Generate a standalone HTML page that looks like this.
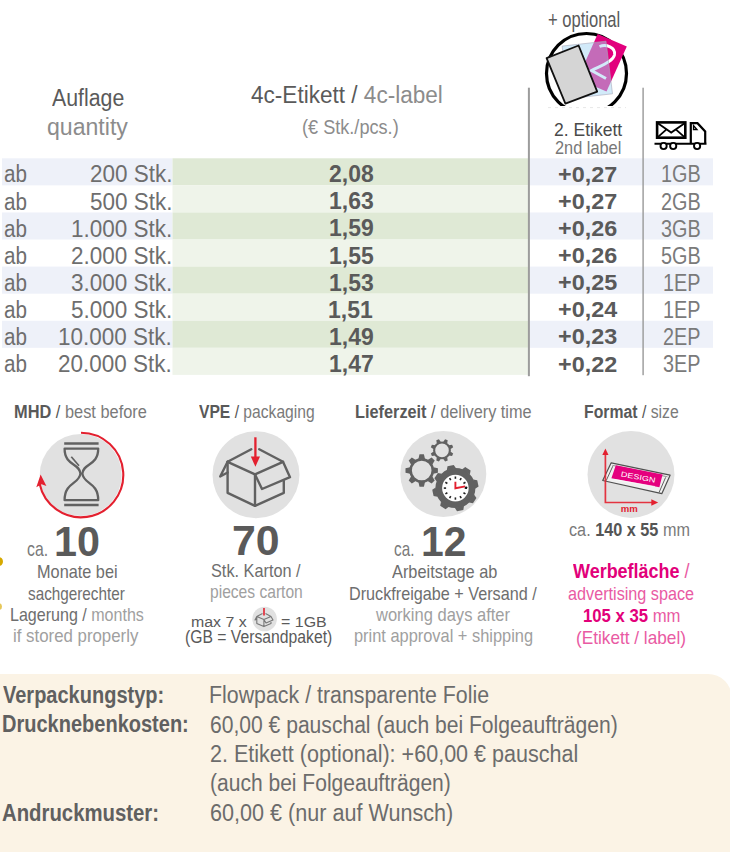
<!DOCTYPE html>
<html><head><meta charset="utf-8"><style>
html,body{margin:0;padding:0;background:#fff;width:730px;height:852px;overflow:hidden}
body{position:relative;font-family:'Liberation Sans', sans-serif}
.t{position:absolute;white-space:pre;line-height:1;transform-origin:0 0.85em}
.b{position:absolute}
</style></head><body>
<div class="b" style="left:-30px;top:674.3px;width:762px;height:220px;border-radius:24px;background:#fbf3e5"></div><svg class="b" style="left:0;top:0" width="730" height="852" viewBox="0 0 730 852"><rect x="2" y="158.30" width="170.5" height="27.07" fill="#eef1f9"/><rect x="172.5" y="158.30" width="356" height="27.07" fill="#dfe9d5"/><rect x="528.5" y="158.30" width="184.5" height="27.07" fill="#eef1f9"/><rect x="172.5" y="185.38" width="356" height="27.07" fill="#eff4ea"/><rect x="2" y="212.45" width="170.5" height="27.07" fill="#eef1f9"/><rect x="172.5" y="212.45" width="356" height="27.07" fill="#dfe9d5"/><rect x="528.5" y="212.45" width="184.5" height="27.07" fill="#eef1f9"/><rect x="172.5" y="239.53" width="356" height="27.07" fill="#eff4ea"/><rect x="2" y="266.60" width="170.5" height="27.07" fill="#eef1f9"/><rect x="172.5" y="266.60" width="356" height="27.07" fill="#dfe9d5"/><rect x="528.5" y="266.60" width="184.5" height="27.07" fill="#eef1f9"/><rect x="172.5" y="293.68" width="356" height="27.07" fill="#eff4ea"/><rect x="2" y="320.75" width="170.5" height="27.07" fill="#eef1f9"/><rect x="172.5" y="320.75" width="356" height="27.07" fill="#dfe9d5"/><rect x="528.5" y="320.75" width="184.5" height="27.07" fill="#eef1f9"/><rect x="172.5" y="347.83" width="356" height="27.07" fill="#eff4ea"/><rect x="527.9" y="87.7" width="2" height="288.5" fill="#9c9c9c"/><rect x="642.4" y="87.7" width="1.4" height="287.5" fill="#999"/><defs><clipPath id="cc"><rect x="530" y="20" width="110" height="86"/></clipPath></defs><g clip-path="url(#cc)"><circle cx="586.5" cy="73.5" r="40" fill="none" stroke="#000" stroke-width="3.2"/></g><polygon points="597.7,34 626.8,46.6 606.5,91.6 577.5,79" fill="#e2007d"/><path d="M599.5,46.5 C606,44 616,47 614.5,55 C613,62 600,66 591.5,70.5 L606,78.5" fill="none" stroke="#fff" stroke-width="2.9"/><polygon points="562.1,46.1 606,41.2 612.5,93.8 568.7,98.7" fill="#a6d6f3" fill-opacity="0.5" stroke="#aab" stroke-width="0.6"/><polygon points="546.6,58.2 578.6,45.5 597.2,91.6 565.4,103.6" fill="#d5d5d5" stroke="#111" stroke-width="1.8" stroke-linejoin="round"/><line x1="548" y1="107.6" x2="626" y2="107.6" stroke="#ddd" stroke-width="0.7" stroke-dasharray="3 4"/><g fill="none" stroke="#000" stroke-width="2.2"><rect x="657.1" y="122.4" width="28.2" height="15.3" stroke-width="2.6"/><path d="M657.5,123 L671.2,132.6 L685,123 M657.8,137.2 L666.8,129.2 M684.5,137.2 L675.5,129.2" stroke-width="1.8"/><path d="M690.8,143 L690.8,123.2 L697.5,123.2 L705.2,131.5 L705.2,143"/><path d="M693.5,129.5 L693.5,125.5 L697,129.5 Z" stroke-width="1.3"/><line x1="654.5" y1="143.8" x2="706.5" y2="143.8" stroke-width="2"/></g><circle cx="663.6" cy="146" r="3.1" fill="#fff" stroke="#000" stroke-width="1.9"/><circle cx="673.2" cy="146" r="3.1" fill="#fff" stroke="#000" stroke-width="1.9"/><circle cx="697.1" cy="146" r="3.1" fill="#fff" stroke="#000" stroke-width="1.9"/><circle cx="80.7" cy="475" r="41" fill="#e1e1e1"/><path d="M81,432.7 A42.3,42.3 0 1 1 39.62,483.79" fill="none" stroke="#e3202f" stroke-width="2.1"/><polygon points="40.6,474.5 36.3,487.3 41.6,484.2 46.4,486" fill="#e3202f"/><g fill="none" stroke="#616161" stroke-width="2.5" stroke-linecap="butt"><line x1="64.2" y1="443.6" x2="98.6" y2="443.6"/><line x1="64.2" y1="505.1" x2="98.6" y2="505.1"/><path d="M64.6,448.6 L98.2,448.6 C98.4,466 83,463 82.4,473.5 C83,484 98.4,482 98.2,500.2 L64.6,500.2 C64.4,482 79.8,484 80.4,473.5 C79.8,463 64.4,466 64.6,448.6 Z" stroke-linejoin="round" stroke-width="2.3"/><line x1="71.3" y1="456.8" x2="79" y2="465.8" stroke-width="1.7"/></g><circle cx="256" cy="474.7" r="43.5" fill="#e1e1e1"/><g fill="none" stroke="#616161" stroke-width="2.4" stroke-linejoin="round" stroke-linecap="round"><path d="M251.3,449.2 L227.6,461.8 L255,474.4 L283,461.8 L259.2,449.2"/><path d="M227.6,461.8 L227.6,492.8 L255,505.8 L283.8,492.8 L283.8,481"/><path d="M255,474.4 L255,505.8"/><path d="M283,461.8 L290,477.2 L262,489 L255,474.4"/><path d="M227.6,461.8 L220.2,476.5 L227.6,472.5"/></g><line x1="255.4" y1="437.3" x2="255.4" y2="458.5" stroke="#e3202f" stroke-width="2.3"/><polygon points="250.8,456.4 260,456.4 255.4,466.8" fill="#e3202f"/><circle cx="443.3" cy="474" r="43" fill="#e1e1e1"/><circle cx="442.0" cy="450.4" r="7.85" fill="none" stroke="#616161" stroke-width="2.10"/><polygon points="447.13,443.76 447.69,440.31 445.11,439.24 443.07,442.07" fill="#616161"/><polygon points="450.33,449.33 453.16,447.29 452.09,444.71 448.64,445.27" fill="#616161"/><polygon points="448.64,455.53 452.09,456.09 453.16,453.51 450.33,451.47" fill="#616161"/><polygon points="443.07,458.73 445.11,461.56 447.69,460.49 447.13,457.04" fill="#616161"/><polygon points="436.87,457.04 436.31,460.49 438.89,461.56 440.93,458.73" fill="#616161"/><polygon points="433.67,451.47 430.84,453.51 431.91,456.09 435.36,455.53" fill="#616161"/><polygon points="435.36,445.27 431.91,444.71 430.84,447.29 433.67,449.33" fill="#616161"/><polygon points="440.93,442.07 438.89,439.24 436.31,440.31 436.87,443.76" fill="#616161"/><circle cx="421.7" cy="470.5" r="11.10" fill="none" stroke="#616161" stroke-width="2.60"/><polygon points="425.00,458.90 423.90,454.30 419.50,454.30 418.40,458.90" fill="#616161"/><polygon points="432.24,464.63 434.71,460.60 431.60,457.49 427.57,459.96" fill="#616161"/><polygon points="433.30,473.80 437.90,472.70 437.90,468.30 433.30,467.20" fill="#616161"/><polygon points="427.57,481.04 431.60,483.51 434.71,480.40 432.24,476.37" fill="#616161"/><polygon points="418.40,482.10 419.50,486.70 423.90,486.70 425.00,482.10" fill="#616161"/><polygon points="411.16,476.37 408.69,480.40 411.80,483.51 415.83,481.04" fill="#616161"/><polygon points="410.10,467.20 405.50,468.30 405.50,472.70 410.10,473.80" fill="#616161"/><polygon points="415.83,459.96 411.80,457.49 408.69,460.60 411.16,464.63" fill="#616161"/><circle cx="455.4" cy="488.1" r="13.5" fill="#fff"/><circle cx="455.4" cy="488.1" r="16.65" fill="none" stroke="#616161" stroke-width="6.70"/><polygon points="456.01,468.34 453.75,464.94 447.49,466.27 446.81,470.30" fill="#616161"/><polygon points="469.80,474.56 470.61,470.55 465.24,467.07 461.92,469.44" fill="#616161"/><polygon points="475.16,488.71 478.56,486.45 477.23,480.19 473.20,479.51" fill="#616161"/><polygon points="468.94,502.50 472.95,503.31 476.43,497.94 474.06,494.62" fill="#616161"/><polygon points="454.79,507.86 457.05,511.26 463.31,509.93 463.99,505.90" fill="#616161"/><polygon points="441.00,501.64 440.19,505.65 445.56,509.13 448.88,506.76" fill="#616161"/><polygon points="435.64,487.49 432.24,489.75 433.57,496.01 437.60,496.69" fill="#616161"/><polygon points="441.86,473.70 437.85,472.89 434.37,478.26 436.74,481.58" fill="#616161"/><line x1="464.70" y1="488.10" x2="467.00" y2="488.10" stroke="#222" stroke-width="1.6"/><line x1="463.45" y1="492.75" x2="465.45" y2="493.90" stroke="#222" stroke-width="1.6"/><line x1="460.05" y1="496.15" x2="461.20" y2="498.15" stroke="#222" stroke-width="1.6"/><line x1="455.40" y1="497.40" x2="455.40" y2="499.70" stroke="#222" stroke-width="1.6"/><line x1="450.75" y1="496.15" x2="449.60" y2="498.15" stroke="#222" stroke-width="1.6"/><line x1="447.35" y1="492.75" x2="445.35" y2="493.90" stroke="#222" stroke-width="1.6"/><line x1="446.10" y1="488.10" x2="443.80" y2="488.10" stroke="#222" stroke-width="1.6"/><line x1="447.35" y1="483.45" x2="445.35" y2="482.30" stroke="#222" stroke-width="1.6"/><line x1="450.75" y1="480.05" x2="449.60" y2="478.05" stroke="#222" stroke-width="1.6"/><line x1="455.40" y1="478.80" x2="455.40" y2="476.50" stroke="#222" stroke-width="1.6"/><line x1="460.05" y1="480.05" x2="461.20" y2="478.05" stroke="#222" stroke-width="1.6"/><line x1="463.45" y1="483.45" x2="465.45" y2="482.30" stroke="#222" stroke-width="1.6"/><path d="M455.4,481.8 L455.4,488.3 L465.2,486.4" fill="none" stroke="#e3202f" stroke-width="1.9"/><circle cx="466.2" cy="487.6" r="1.2" fill="#111"/><circle cx="631" cy="474.4" r="43.5" fill="#e1e1e1"/><polygon points="602.7,480.5 611.2,462.8 670.1,475.2 661.8,493.7" fill="#f0f0f0" stroke="#505050" stroke-width="1.2" stroke-linejoin="round"/><line x1="612.3" y1="465.3" x2="667.5" y2="476.8" stroke="#707070" stroke-width="0.7"/><line x1="612.8" y1="466.2" x2="606.2" y2="480.6" stroke="#505050" stroke-width="0.9"/><line x1="665.6" y1="477.4" x2="659" y2="492.6" stroke="#505050" stroke-width="0.9"/><polygon points="615.8,465.2 662.6,474.6 659.4,487.2 611.4,478.2" fill="#e5007e"/><text x="620.5" y="476.2" font-family="Liberation Sans" font-size="7.2" fill="#fff" transform="rotate(11 620.5 476.2)" textLength="35" lengthAdjust="spacingAndGlyphs">DESIGN</text><line x1="614.5" y1="479.5" x2="655" y2="486.5" stroke="#fff" stroke-width="0.8" opacity="0.8"/><path d="M605.4,454 L605.4,502.5 L652,502.5" fill="none" stroke="#e3202f" stroke-width="1.7" stroke-opacity="0.9"/><polygon points="602.3,455 608.5,455 605.4,448.6" fill="#e3202f"/><polygon points="651.3,499.2 651.3,505.8 658.2,502.5" fill="#e3202f"/><text x="620.8" y="511.8" font-family="Liberation Sans" font-weight="bold" font-size="8.5" fill="#e3202f" textLength="17" lengthAdjust="spacingAndGlyphs">mm</text><circle cx="264.6" cy="619" r="12.3" fill="#e1e1e1"/><g fill="none" stroke="#777" stroke-width="1.1" stroke-linejoin="round"><path d="M262.5,613.5 L256.8,616.4 L263.9,619.5 L271,616.4 L265.5,613.5 M256.8,616.4 L256.8,623.5 L263.9,626.6 L271,623.5 L271,620.5 M263.9,619.5 L263.9,626.6 M271,616.4 L273,620 L266,623 L263.9,619.5 M256.8,616.4 L255,620 L256.8,619"/></g><line x1="264" y1="608" x2="264" y2="615.5" stroke="#e3202f" stroke-width="1.6"/></svg><div class="b" style="left:-5px;top:556.5px;width:8px;height:9px;background:#d6a900;border-radius:50%"></div><div class="b" style="left:-5px;top:602.5px;width:6.6px;height:7px;background:#e6c75a;border-radius:50%"></div>
<div class="t" style="left:547.84px;top:9.00px;font-size:21.74px;transform:scale(0.7613,1.0)"><span style="color:#5a5a5a;font-weight:normal">+ optional</span></div><div class="t" style="left:51.60px;top:87.00px;font-size:23.62px;transform:scale(0.9025,1.0)"><span style="color:#5a5a5a;font-weight:normal">Auflage</span></div><div class="t" style="left:46.52px;top:116.00px;font-size:23.62px;transform:scale(0.9780,1.0)"><span style="color:#8c8c8c;font-weight:normal">quantity</span></div><div class="t" style="left:250.80px;top:83.00px;font-size:24.64px;transform:scale(0.9163,1.0)"><span style="color:#5a5a5a;font-weight:normal">4c-Etikett / </span><span style="color:#8c8c8c;font-weight:normal">4c-label</span></div><div class="t" style="left:302.39px;top:118.00px;font-size:19.86px;transform:scale(0.9125,1.0)"><span style="color:#8c8c8c;font-weight:normal">(€ Stk./pcs.)</span></div><div class="t" style="left:553.95px;top:121.00px;font-size:18.55px;transform:scale(0.9451,1.0)"><span style="color:#4a4a4a;font-weight:normal">2. Etikett</span></div><div class="t" style="left:555.18px;top:140.00px;font-size:17.83px;transform:scale(0.9157,1.0)"><span style="color:#777777;font-weight:normal">2nd label</span></div><div class="t" style="left:3.66px;top:162.00px;font-size:24.64px;transform:scale(0.8385,1.0)"><span style="color:#6e6e6e;font-weight:normal">ab</span></div><div class="t" style="left:89.69px;top:162.00px;font-size:24.64px;transform:scale(0.9126,1.0)"><span style="color:#6e6e6e;font-weight:normal">200 Stk.</span></div><div class="t" style="left:328.93px;top:163.00px;font-size:23.62px;transform:scale(0.9727,1.0)"><span style="color:#5a5a5a;font-weight:bold">2,08</span></div><div class="t" style="left:558.42px;top:164.00px;font-size:21.74px;transform:scale(1.0755,1.0)"><span style="color:#5a5a5a;font-weight:bold">+0,27</span></div><div class="t" style="left:660.84px;top:162.00px;font-size:23.91px;transform:scale(0.8289,1.0)"><span style="color:#7a7a7a;font-weight:normal">1GB</span></div><div class="t" style="left:3.66px;top:190.00px;font-size:24.64px;transform:scale(0.8385,1.0)"><span style="color:#6e6e6e;font-weight:normal">ab</span></div><div class="t" style="left:89.69px;top:190.00px;font-size:24.64px;transform:scale(0.9126,1.0)"><span style="color:#6e6e6e;font-weight:normal">500 Stk.</span></div><div class="t" style="left:328.93px;top:190.00px;font-size:23.62px;transform:scale(0.9727,1.0)"><span style="color:#5a5a5a;font-weight:bold">1,63</span></div><div class="t" style="left:558.42px;top:191.00px;font-size:21.74px;transform:scale(1.0755,1.0)"><span style="color:#5a5a5a;font-weight:bold">+0,27</span></div><div class="t" style="left:660.84px;top:190.00px;font-size:23.91px;transform:scale(0.8289,1.0)"><span style="color:#7a7a7a;font-weight:normal">2GB</span></div><div class="t" style="left:3.66px;top:217.00px;font-size:24.64px;transform:scale(0.8385,1.0)"><span style="color:#6e6e6e;font-weight:normal">ab</span></div><div class="t" style="left:70.52px;top:217.00px;font-size:24.64px;transform:scale(0.9126,1.0)"><span style="color:#6e6e6e;font-weight:normal">1.000 Stk.</span></div><div class="t" style="left:328.93px;top:217.00px;font-size:23.62px;transform:scale(0.9727,1.0)"><span style="color:#5a5a5a;font-weight:bold">1,59</span></div><div class="t" style="left:557.89px;top:218.00px;font-size:21.74px;transform:scale(1.0755,1.0)"><span style="color:#5a5a5a;font-weight:bold">+0,26</span></div><div class="t" style="left:660.84px;top:217.00px;font-size:23.91px;transform:scale(0.8289,1.0)"><span style="color:#7a7a7a;font-weight:normal">3GB</span></div><div class="t" style="left:3.66px;top:244.00px;font-size:24.64px;transform:scale(0.8385,1.0)"><span style="color:#6e6e6e;font-weight:normal">ab</span></div><div class="t" style="left:70.52px;top:244.00px;font-size:24.64px;transform:scale(0.9126,1.0)"><span style="color:#6e6e6e;font-weight:normal">2.000 Stk.</span></div><div class="t" style="left:328.93px;top:245.00px;font-size:23.62px;transform:scale(0.9727,1.0)"><span style="color:#5a5a5a;font-weight:bold">1,55</span></div><div class="t" style="left:557.89px;top:245.00px;font-size:21.74px;transform:scale(1.0755,1.0)"><span style="color:#5a5a5a;font-weight:bold">+0,26</span></div><div class="t" style="left:660.84px;top:244.00px;font-size:23.91px;transform:scale(0.8289,1.0)"><span style="color:#7a7a7a;font-weight:normal">5GB</span></div><div class="t" style="left:3.66px;top:271.00px;font-size:24.64px;transform:scale(0.8385,1.0)"><span style="color:#6e6e6e;font-weight:normal">ab</span></div><div class="t" style="left:70.52px;top:271.00px;font-size:24.64px;transform:scale(0.9126,1.0)"><span style="color:#6e6e6e;font-weight:normal">3.000 Stk.</span></div><div class="t" style="left:328.93px;top:272.00px;font-size:23.62px;transform:scale(0.9727,1.0)"><span style="color:#5a5a5a;font-weight:bold">1,53</span></div><div class="t" style="left:557.89px;top:272.00px;font-size:21.74px;transform:scale(1.0755,1.0)"><span style="color:#5a5a5a;font-weight:bold">+0,25</span></div><div class="t" style="left:663.33px;top:271.00px;font-size:23.91px;transform:scale(0.8289,1.0)"><span style="color:#7a7a7a;font-weight:normal">1EP</span></div><div class="t" style="left:3.66px;top:298.00px;font-size:24.64px;transform:scale(0.8385,1.0)"><span style="color:#6e6e6e;font-weight:normal">ab</span></div><div class="t" style="left:70.52px;top:298.00px;font-size:24.64px;transform:scale(0.9126,1.0)"><span style="color:#6e6e6e;font-weight:normal">5.000 Stk.</span></div><div class="t" style="left:328.44px;top:299.00px;font-size:23.62px;transform:scale(0.9727,1.0)"><span style="color:#5a5a5a;font-weight:bold">1,51</span></div><div class="t" style="left:557.89px;top:299.00px;font-size:21.74px;transform:scale(1.0755,1.0)"><span style="color:#5a5a5a;font-weight:bold">+0,24</span></div><div class="t" style="left:663.33px;top:298.00px;font-size:23.91px;transform:scale(0.8289,1.0)"><span style="color:#7a7a7a;font-weight:normal">1EP</span></div><div class="t" style="left:3.66px;top:325.00px;font-size:24.64px;transform:scale(0.8385,1.0)"><span style="color:#6e6e6e;font-weight:normal">ab</span></div><div class="t" style="left:57.74px;top:325.00px;font-size:24.64px;transform:scale(0.9126,1.0)"><span style="color:#6e6e6e;font-weight:normal">10.000 Stk.</span></div><div class="t" style="left:328.93px;top:326.00px;font-size:23.62px;transform:scale(0.9727,1.0)"><span style="color:#5a5a5a;font-weight:bold">1,49</span></div><div class="t" style="left:557.89px;top:326.00px;font-size:21.74px;transform:scale(1.0755,1.0)"><span style="color:#5a5a5a;font-weight:bold">+0,23</span></div><div class="t" style="left:663.33px;top:325.00px;font-size:23.91px;transform:scale(0.8289,1.0)"><span style="color:#7a7a7a;font-weight:normal">2EP</span></div><div class="t" style="left:3.66px;top:352.00px;font-size:24.64px;transform:scale(0.8385,1.0)"><span style="color:#6e6e6e;font-weight:normal">ab</span></div><div class="t" style="left:57.74px;top:352.00px;font-size:24.64px;transform:scale(0.9126,1.0)"><span style="color:#6e6e6e;font-weight:normal">20.000 Stk.</span></div><div class="t" style="left:328.93px;top:353.00px;font-size:23.62px;transform:scale(0.9727,1.0)"><span style="color:#5a5a5a;font-weight:bold">1,47</span></div><div class="t" style="left:558.42px;top:354.00px;font-size:21.74px;transform:scale(1.0755,1.0)"><span style="color:#5a5a5a;font-weight:bold">+0,22</span></div><div class="t" style="left:663.33px;top:352.00px;font-size:23.91px;transform:scale(0.8289,1.0)"><span style="color:#7a7a7a;font-weight:normal">3EP</span></div><div class="t" style="left:13.92px;top:403.00px;font-size:18.70px;transform:scale(0.8760,1.0)"><span style="color:#595959;font-weight:bold">MHD</span><span style="color:#555555;font-weight:normal"> / </span><span style="color:#7a7a7a;font-weight:normal">best before</span></div><div class="t" style="left:198.80px;top:403.00px;font-size:18.70px;transform:scale(0.8372,1.0)"><span style="color:#595959;font-weight:bold">VPE</span><span style="color:#555555;font-weight:normal"> / </span><span style="color:#7a7a7a;font-weight:normal">packaging</span></div><div class="t" style="left:355.13px;top:403.00px;font-size:18.70px;transform:scale(0.8721,1.0)"><span style="color:#595959;font-weight:bold">Lieferzeit</span><span style="color:#555555;font-weight:normal"> / </span><span style="color:#7a7a7a;font-weight:normal">delivery time</span></div><div class="t" style="left:583.96px;top:403.00px;font-size:18.70px;transform:scale(0.8445,1.0)"><span style="color:#595959;font-weight:bold">Format</span><span style="color:#555555;font-weight:normal"> / </span><span style="color:#7a7a7a;font-weight:normal">size</span></div><div class="t" style="left:27.22px;top:539.00px;font-size:20.29px;transform:scale(0.7792,1.0)"><span style="color:#7a7a7a;font-weight:normal">ca.</span></div><div class="t" style="left:53.59px;top:520.00px;font-size:42.61px;transform:scale(0.9698,1.0)"><span style="color:#5a5a5a;font-weight:bold">10</span></div><div class="t" style="left:37.02px;top:563.00px;font-size:18.55px;transform:scale(0.8789,1.0)"><span style="color:#6e6e6e;font-weight:normal">Monate bei</span></div><div class="t" style="left:27.78px;top:585.00px;font-size:18.55px;transform:scale(0.8241,1.0)"><span style="color:#6e6e6e;font-weight:normal">sachgerechter</span></div><div class="t" style="left:10.33px;top:606.00px;font-size:18.55px;transform:scale(0.8660,1.0)"><span style="color:#6e6e6e;font-weight:normal">Lagerung / </span><span style="color:#a0a0a0;font-weight:normal">months</span></div><div class="t" style="left:13.29px;top:627.00px;font-size:18.55px;transform:scale(0.9080,1.0)"><span style="color:#a0a0a0;font-weight:normal">if stored properly</span></div><div class="t" style="left:231.74px;top:520.00px;font-size:41.59px;transform:scale(1.0302,1.0)"><span style="color:#5a5a5a;font-weight:bold">70</span></div><div class="t" style="left:210.92px;top:562.00px;font-size:18.55px;transform:scale(0.8782,1.0)"><span style="color:#6e6e6e;font-weight:normal">Stk. Karton /</span></div><div class="t" style="left:209.86px;top:583.00px;font-size:18.55px;transform:scale(0.8417,1.0)"><span style="color:#a0a0a0;font-weight:normal">pieces carton</span></div><div class="t" style="left:191.15px;top:614.00px;font-size:15.22px;transform:scale(1.0462,1.0)"><span style="color:#5a5a5a;font-weight:normal">max 7 x</span></div><div class="t" style="left:280.55px;top:614.00px;font-size:15.22px;transform:scale(1.0500,1.0)"><span style="color:#5a5a5a;font-weight:normal">= 1GB</span></div><div class="t" style="left:185.11px;top:629.00px;font-size:17.68px;transform:scale(0.8896,1.0)"><span style="color:#5a5a5a;font-weight:normal">(GB = Versandpaket)</span></div><div class="t" style="left:394.15px;top:539.00px;font-size:20.29px;transform:scale(0.7542,1.0)"><span style="color:#7a7a7a;font-weight:normal">ca.</span></div><div class="t" style="left:420.96px;top:521.00px;font-size:42.17px;transform:scale(0.9705,1.0)"><span style="color:#5a5a5a;font-weight:bold">12</span></div><div class="t" style="left:391.80px;top:563.00px;font-size:18.55px;transform:scale(0.8824,1.0)"><span style="color:#6e6e6e;font-weight:normal">Arbeitstage ab</span></div><div class="t" style="left:349.13px;top:585.00px;font-size:18.55px;transform:scale(0.8738,1.0)"><span style="color:#6e6e6e;font-weight:normal">Druckfreigabe + Versand /</span></div><div class="t" style="left:376.00px;top:606.00px;font-size:18.55px;transform:scale(0.8913,1.0)"><span style="color:#a0a0a0;font-weight:normal">working days after</span></div><div class="t" style="left:353.52px;top:627.00px;font-size:18.55px;transform:scale(0.8845,1.0)"><span style="color:#a0a0a0;font-weight:normal">print approval + shipping</span></div><div class="t" style="left:569.40px;top:522.00px;font-size:17.97px;transform:scale(0.9045,1.0)"><span style="color:#7a7a7a;font-weight:normal">ca. </span><span style="color:#555555;font-weight:bold">140 x 55</span><span style="color:#7a7a7a;font-weight:normal"> mm</span></div><div class="t" style="left:572.50px;top:561.00px;font-size:20.29px;transform:scale(0.8863,1.0)"><span style="color:#e2007a;font-weight:bold">Werbefläche</span><span style="color:#e95aa3;font-weight:normal"> /</span></div><div class="t" style="left:567.51px;top:585.00px;font-size:18.26px;transform:scale(0.8879,1.0)"><span style="color:#e95aa3;font-weight:normal">advertising space</span></div><div class="t" style="left:582.85px;top:608.00px;font-size:17.68px;transform:scale(0.9455,1.0)"><span style="color:#e2007a;font-weight:bold">105 x 35</span><span style="color:#e95aa3;font-weight:normal"> mm</span></div><div class="t" style="left:575.69px;top:629.00px;font-size:18.84px;transform:scale(0.9136,1.0)"><span style="color:#e95aa3;font-weight:normal">(Etikett / label)</span></div><div class="t" style="left:3.30px;top:683.00px;font-size:24.35px;transform:scale(0.8216,1.0)"><span style="color:#606060;font-weight:bold">Verpackungstyp:</span></div><div class="t" style="left:2.48px;top:712.00px;font-size:24.35px;transform:scale(0.8219,1.0)"><span style="color:#606060;font-weight:bold">Drucknebenkosten:</span></div><div class="t" style="left:2.46px;top:801.00px;font-size:24.35px;transform:scale(0.8351,1.0)"><span style="color:#606060;font-weight:bold">Andruckmuster:</span></div><div class="t" style="left:208.65px;top:683.00px;font-size:24.35px;transform:scale(0.8772,1.0)"><span style="color:#6c6c6c;font-weight:normal">Flowpack / transparente Folie</span></div><div class="t" style="left:209.53px;top:713.00px;font-size:24.35px;transform:scale(0.8658,1.0)"><span style="color:#6c6c6c;font-weight:normal">60,00 € pauschal (auch bei Folgeaufträgen)</span></div><div class="t" style="left:209.51px;top:742.00px;font-size:24.35px;transform:scale(0.8850,1.0)"><span style="color:#6c6c6c;font-weight:normal">2. Etikett (optional): +60,00 € pauschal</span></div><div class="t" style="left:209.54px;top:771.00px;font-size:24.35px;transform:scale(0.8638,1.0)"><span style="color:#6c6c6c;font-weight:normal">(auch bei Folgeaufträgen)</span></div><div class="t" style="left:209.51px;top:801.00px;font-size:24.35px;transform:scale(0.8868,1.0)"><span style="color:#6c6c6c;font-weight:normal">60,00 € (nur auf Wunsch)</span></div>
</body></html>
